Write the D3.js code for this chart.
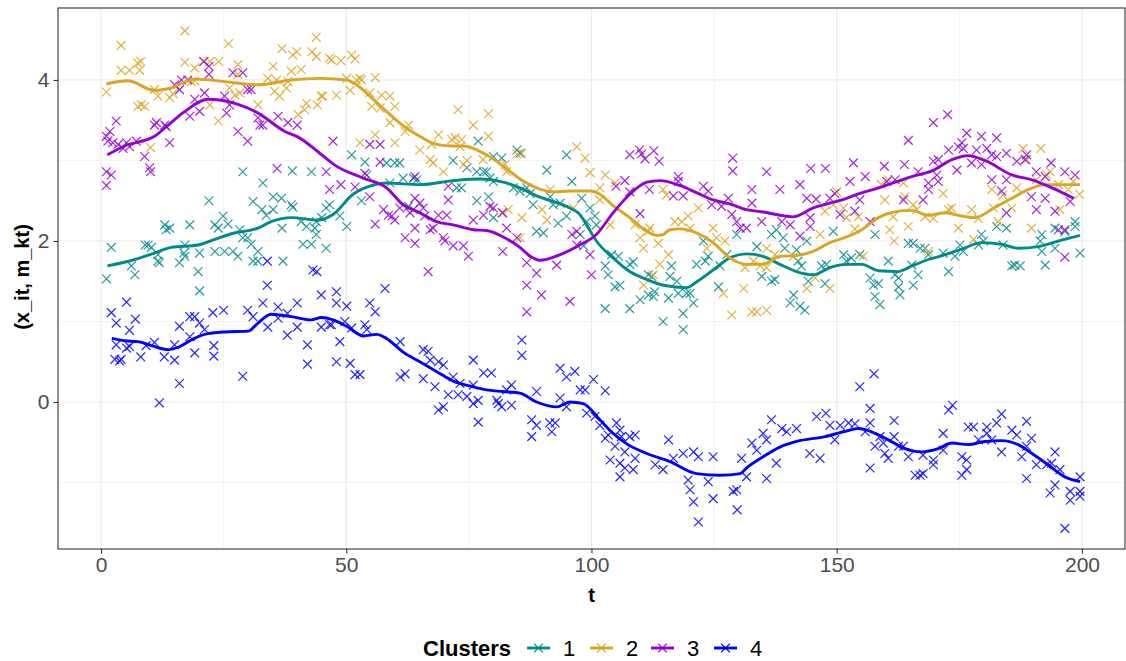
<!DOCTYPE html>
<html><head><meta charset="utf-8">
<script src="https://cdn.jsdelivr.net/npm/d3@7"></script>
<style>
html,body{margin:0;padding:0;background:#fff;}
svg{display:block;font-family:"Liberation Sans",Arial,Helvetica,sans-serif;}
</style></head>
<body><svg id="chart" width="1126" height="661"></svg>
<script>
// ---------- DATA ----------
const clusters = ["1","2","3","4"];
const colors = ["#008B8B","#DAA520","#9400D3","#0000FF"];
const xTicks = [0,50,100,150,200];
const yTicks = [0,2,4];
const xMinor = [25,75,125,175];
const yMinor = [-1,1,3];

// mean trajectories m_kt  [t, value]
const line1 = [[1.3,1.69],[6.9,1.77],[10.9,1.85],[14.3,1.92],[19.8,1.95],[23.2,2.02],[26.6,2.09],[32,2.16],[34.7,2.24],[38.8,2.29],[44.2,2.26],[47.3,2.33],[51.4,2.58],[54.8,2.68],[58.2,2.72],[65,2.70],[71.8,2.75],[77.3,2.77],[82,2.73],[85.4,2.66],[88.8,2.56],[92.2,2.49],[95.6,2.41],[97.6,2.33],[99,2.20],[101,2.0],[104.4,1.79],[107.8,1.62],[111.3,1.52],[114.7,1.45],[119.4,1.42],[121.4,1.49],[124.8,1.64],[128.2,1.79],[131.6,1.84],[135,1.81],[138.4,1.71],[141.8,1.62],[145.2,1.58],[148.6,1.67],[152,1.71],[155.1,1.71],[158.5,1.63],[162.5,1.62],[165.3,1.69],[168.7,1.77],[172.1,1.83],[175.5,1.90],[179.6,1.98],[183.6,1.96],[187,1.91],[191.1,1.93],[195.2,2.00],[199.6,2.07]];
const line2 = [[1.1,3.95],[5.5,3.99],[10.9,3.87],[14.3,3.90],[19.1,4.01],[25.2,3.98],[32,3.94],[38.8,4.0],[44.6,4.02],[50.1,4.0],[52.1,3.94],[54.8,3.80],[58.2,3.61],[62.3,3.40],[65,3.30],[68.4,3.20],[71.8,3.18],[73.9,3.18],[78.6,3.07],[82,2.93],[85.4,2.77],[88.8,2.66],[92.2,2.61],[95.6,2.62],[99.7,2.62],[101.7,2.58],[104.4,2.44],[107.8,2.29],[111.3,2.12],[113.3,2.07],[114.6,2.08],[116,2.14],[118,2.15],[121.4,2.10],[124.8,1.98],[128.2,1.79],[131.6,1.71],[135,1.71],[138.4,1.81],[141.8,1.82],[145.2,1.87],[148.6,1.98],[152,2.05],[155.1,2.14],[158.5,2.29],[160.9,2.35],[165.3,2.38],[168.7,2.32],[172.1,2.35],[175.5,2.31],[178.2,2.29],[182.3,2.42],[185.7,2.53],[189.1,2.64],[192.5,2.70],[195.9,2.70],[199.6,2.70]];
const line3 = [[1.3,3.07],[4.8,3.18],[10.9,3.30],[13.7,3.44],[17.1,3.61],[21.8,3.76],[27.3,3.71],[32,3.59],[37.5,3.36],[40.2,3.29],[44.6,3.09],[48,2.93],[53.5,2.78],[58.2,2.66],[61.6,2.45],[65,2.35],[68.4,2.24],[71.8,2.20],[75.9,2.14],[78.6,2.13],[82,2.05],[85.4,1.92],[87.5,1.81],[89.5,1.76],[93.6,1.83],[97.6,1.95],[101,2.08],[104.4,2.35],[107.8,2.58],[111.3,2.73],[114,2.75],[118,2.69],[121.4,2.60],[124.8,2.51],[128.2,2.46],[131.6,2.39],[135,2.36],[138.4,2.32],[141.1,2.30],[145.2,2.41],[148.6,2.47],[152,2.53],[153.7,2.57],[158.5,2.66],[165.3,2.80],[169.4,2.87],[173.5,3.01],[176.8,3.06],[180.2,3.00],[185.7,2.82],[189.8,2.76],[193.9,2.66],[198.3,2.53]];
const line4 = [[2.2,0.79],[4.8,0.76],[7.5,0.75],[10.3,0.70],[13.7,0.65],[15.7,0.68],[18.4,0.77],[21.1,0.84],[25.2,0.87],[30,0.88],[32,0.98],[34.7,1.09],[38.8,1.06],[42.9,1.02],[44.9,1.05],[47.3,1.02],[50.1,0.94],[53.5,0.82],[56.2,0.84],[58.2,0.79],[61.6,0.62],[65,0.50],[68.4,0.38],[71.8,0.26],[75.2,0.20],[78.6,0.15],[82,0.13],[85.4,0.11],[88.8,0.00],[92.9,-0.06],[95.6,0.0],[98.3,-0.02],[101.7,-0.22],[104.4,-0.39],[107.2,-0.52],[111.3,-0.64],[116,-0.74],[121.4,-0.89],[126.2,-0.91],[130.3,-0.89],[131.6,-0.82],[135,-0.68],[138.4,-0.56],[141.8,-0.49],[147.6,-0.43],[152,-0.36],[154.4,-0.33],[157.1,-0.37],[160.5,-0.47],[163.9,-0.58],[167.3,-0.62],[170.7,-0.58],[173.5,-0.51],[176.8,-0.53],[180.2,-0.49],[183.6,-0.48],[187,-0.53],[189.8,-0.64],[193.1,-0.78],[196.5,-0.93],[199.6,-0.99]];

// observations x_it  [t, value]
const c1Points = [[1.1,1.53],[2.1,1.92],[6.2,1.69],[6.9,1.58],[9,1.95],[9.6,1.95],[10.3,1.92],[11.6,1.83],[11.6,1.75],[11.9,1.73],[13,2.20],[13.3,2.14],[14,2.16],[17.1,1.95],[16.9,1.85],[17.1,1.81],[16,1.73],[18.1,2.20],[19.8,1.62],[20.1,1.85],[22,2.50],[23.2,2.20],[23.9,2.16],[24.9,2.31],[25.9,2.21],[23.2,1.87],[25.2,1.87],[26.9,1.87],[27.9,1.81],[28.3,2.14],[28.9,2.86],[28.9,2.04],[29.9,2.04],[31,2.49],[30.6,1.96],[32,1.87],[32,1.75],[31,1.75],[32.8,2.39],[33,2.72],[33.7,2.32],[35.1,2.55],[35.1,2.39],[36.8,2.53],[36.9,2.16],[37.1,1.75],[38.8,2.45],[39.1,2.42],[39,2.87],[40.8,2.24],[41.2,1.96],[41.9,2.18],[42.9,2.86],[42.9,1.96],[43.6,2.16],[43.9,2.08],[43.9,2.24],[45.9,1.91],[45.9,2.41],[46.6,2.45],[20.1,1.38],
[51.1,3.07],[53.8,2.98],[54.2,2.82],[53.1,2.50],[45,2.29],[48.7,2.31],[50.1,2.18],[58.2,2.97],[59.9,2.97],[60.9,2.97],[58.9,2.72],[61.6,2.78],[63.7,2.78],[64.4,2.76],[62.7,2.43],[63.7,2.39],[71.8,3.0],[72.5,2.66],[73.5,2.66],[74.6,2.91],[76.9,3.24],[76.6,2.86],[78,2.86],[78.6,2.86],[80,3.05],[81.7,3.03],[79.3,2.78],[80,2.74],[76.6,2.50],[79,2.55],[80,2.29],[84.1,2.66],[85.4,2.62],[84.8,3.13],[85.4,3.09],[86.8,2.66],[87.5,2.59],[88.1,2.45],[90.9,2.88],[91.6,2.55],[92.2,2.45],[93.6,2.47],[94.9,3.07],[96,2.74],[94.9,2.31],[93.2,2.22],[88.8,2.12],[90.2,2.10],[98,2.53],[99.7,2.41],[99,2.24],[97.7,2.08],[98.4,1.94],[100.7,2.31],[101,2.20],
[104.1,1.83],[105.5,1.81],[102.8,1.69],[103.4,1.58],[107.8,1.71],[108.5,1.74],[111.6,1.58],[116.3,1.69],[116,1.56],[121.4,1.71],[122.8,2.0],[123.2,1.75],[123.8,1.81],[126.2,1.69],[127.6,1.83],[129.6,2.08],[133.7,1.93],[136.7,2.08],[137.7,2.14],[139.1,2.04],[139.4,1.91],[141.8,1.89],[142.1,1.75],[142.8,1.69],[143.9,2.0],[146.9,1.69],[147.9,1.71],[149.3,2.12],[151.4,1.83],[152,1.75],[153,1.79],
[102.8,1.16],[104.8,1.43],[105.8,1.45],[107.8,1.16],[109.9,1.27],[111.6,1.33],[112.6,1.31],[112.9,1.37],[112.3,1.56],[114.6,1.0],[115.7,1.29],[117.4,1.50],[117.7,1.35],[118.7,1.10],[118.7,0.90],[119.4,1.35],[120.1,1.35],[120.8,1.23],[125.9,1.43],[134.7,1.56],[136.7,1.50],[137.4,1.52],[140.5,1.23],[141.2,1.33],[142.5,1.19],[143.5,1.14],[144.2,1.50],[147.6,1.47],
[154.7,1.83],[157.8,2.08],[160.5,1.75],[161.9,1.58],[164.6,1.97],[165.6,1.97],[165.3,1.70],[166.6,1.58],[167,1.91],[168,1.91],[168.7,1.83],[171.7,1.85],[172.8,1.62],[174.1,1.81],[175.1,1.95],[175.8,1.87],[178.9,1.95],[179.5,2.08],[179.9,2.0],[182.6,2.18],[183.9,1.95],[184.6,2.16],[185.7,1.69],[186.3,1.70],[187.4,1.69],[191.8,2.08],[191.5,2.0],[191.8,1.87],[192.5,1.70],[194.5,2.16],[194.5,1.91],[196.5,2.12],[198.6,2.24],[198.6,2.18],[199.6,1.85],
[156.8,1.54],[157.5,1.45],[158.5,1.47],[157.8,1.31],[158.8,1.21],[162.6,1.54],[162.6,1.43],[162.9,1.33],[165.6,1.45]];

const c2Points = [[1.1,3.85],[4.1,4.43],[4.1,4.12],[5.8,4.12],[7.5,4.21],[7.9,4.12],[8.1,4.23],[17.1,4.61],[17.1,4.22],[19.1,4.15],[21.1,4.23],[22.2,4.23],[24,4.23],[26,4.45],[27.9,4.19],[27.9,4.07],[34,4.02],[35.1,4.17],[36.9,4.39],[38.8,4.11],[39.1,4.31],[39.9,4.35],[40.8,4.13],[43,4.35],[43.9,4.53],[43.9,4.29],[46.6,4.27],[7.5,3.67],[8.9,3.67],[8.2,3.69],[11.6,3.80],[14,3.78],[14.7,3.83],[10.9,3.88],[18.4,3.98],[19.1,3.99],[22.2,3.69],[23.9,3.49],[26.2,3.90],[27.3,3.81],[28.3,3.84],[32,3.69],[35.4,3.86],[36.4,3.80],[37.8,3.90],[40.2,3.57],[41.5,3.63],[41.9,3.71],[44.1,3.69],[44.9,3.80],[10.1,3.16],[38.1,3.98],[35.8,4.0],
[47,4.25],[48.9,4.24],[51.1,4.31],[51.8,4.26],[45.2,3.80],[48,3.81],[50.1,4.02],[50.8,3.87],[52.1,4.0],[52.8,4.02],[53.1,4.0],[55.9,4.03],[54.8,3.84],[55.2,3.67],[57.2,3.81],[56.9,3.65],[58.9,3.80],[59.9,3.67],[58.9,3.47],[55.9,3.32],[52.8,3.22],[59.9,3.22],[62.7,3.44],[62,3.36],[65,3.13],[68.8,3.32],[67.4,3.20],[67.1,3.01],[67.7,2.97],[69.8,2.86],[71.5,3.26],[72.8,3.63],[72.2,3.28],[73.5,3.26],[73.2,3.17],[75.9,3.44],[79,3.58],[79,3.30],[74.6,3.0],[73.9,2.95],[77.9,3.01],[82.4,2.95],[82.7,2.86],[84.8,3.08],[85.8,3.09],[83,2.39],[81.7,2.35],[85.8,2.29],[89.9,2.39],[90.9,2.26],[91.6,2.64],[97,3.17],[98.7,3.03],[99.7,2.85],[96.3,2.41],[85.4,2.04],
[101.7,2.66],[102.8,2.82],[104.8,2.72],[101.7,2.51],[103.8,2.20],[108.9,2.20],[109.9,2.04],[110.6,1.91],[111.9,2.16],[111.6,2.12],[113.6,1.97],[113.9,1.71],[115.7,1.83],[114.6,2.64],[115.3,2.57],[117,2.24],[118.4,2.24],[119.7,2.31],[121.8,2.41],[120.1,2.16],[123.5,1.91],[124.8,2.16],[125.5,2.04],[127.2,2.0],[131.3,1.67],[133,1.75],[134.4,1.69],[135.7,1.67],[137.4,1.83],[135.7,1.91],[141.2,1.81],[146.6,2.08],[147.6,2.37],[149.3,2.45],[150,2.61],[151.4,2.41],[152,2.29],[153.7,2.15],
[110.6,1.45],[112.6,1.58],[126.9,1.35],[131,1.41],[128.6,1.08],[132.7,1.12],[133.7,1.12],[135.7,1.14],[143.9,1.41],[145.6,1.54],[148.6,1.41],
[154.4,2.30],[155.4,1.81],[159.1,2.70],[159.8,2.51],[160.5,2.76],[161.5,2.30],[160.8,2.14],[161.7,2.0],[163.6,2.72],[163.9,2.55],[164.6,2.18],[165.6,2.45],[166.3,2.39],[168,2.30],[168.7,1.87],[169.7,2.28],[171.7,2.59],[172.8,2.39],[173.4,2.41],[174.8,2.16],[177.5,2.39],[177.9,2.02],[178.9,2.28],[181.6,2.64],[181.9,2.41],[182.9,2.24],[183.9,2.57],[185.7,2.41],[186.7,2.66],[188,3.15],[188.7,3.01],[189.7,2.16],[190.7,2.76],[191.6,3.15],[192.8,2.82],[193.5,2.86],[195.2,2.70],[195.5,2.39],[197.2,2.64],[198.2,2.74],[199.5,2.58]];

const c3Points = [[1.1,3.30],[1.8,3.36],[3.1,3.49],[1.4,3.24],[2.4,3.22],[3.5,3.20],[4.5,3.15],[5.2,3.22],[5.8,3.17],[7.2,3.24],[8.9,3.05],[9.9,2.91],[10.1,2.86],[1.1,2.86],[2.1,2.82],[1.1,2.69],[10.9,3.44],[11.3,3.47],[13,3.44],[13.3,3.42],[14,3.22],[15,3.94],[16.4,4.0],[16,3.88],[17.7,4.0],[18.1,3.55],[19.1,3.76],[20.1,3.61],[21.1,3.84],[20.9,4.23],[22,4.07],[22,4.17],[25.2,3.80],[25.6,3.59],[26.2,3.69],[26.9,4.09],[28.9,4.09],[27.9,3.36],[29.9,3.24],[29.9,3.88],[30.6,3.88],[32,3.53],[32.4,3.44],[33,3.44],[36.1,3.55],[38.1,3.47],[40,3.44],[35.9,2.90],[45.9,2.86],[46.6,2.64],[47.3,3.24],
[48.9,2.70],[51.8,2.67],[53.8,2.84],[54.8,3.20],[56.9,3.20],[56.9,2.98],[54.8,2.55],[55.9,2.21],[57.6,2.39],[58.6,2.32],[59.3,2.31],[59.9,2.26],[60.9,2.41],[62,2.04],[63,2.35],[64,2.53],[64,2.80],[64,2.16],[64,1.97],[65,2.47],[65.7,2.41],[66,2.31],[67.1,2.14],[67.7,2.16],[68.8,2.32],[70.5,2.32],[70.8,2.51],[70.8,2.68],[69.8,2.04],[70.1,2.0],[71.8,1.94],[73.9,1.94],[74.9,1.81],[75.9,2.26],[78,2.32],[79.3,2.43],[80,2.41],[81.9,2.35],[81.9,1.87],[82.7,2.16],[84.8,2.04],[86.8,1.73],[88.8,1.60],[92.9,1.70],[96,2.08],[97,2.12],[97,1.95],[99.7,1.83],[100,1.58],[66.7,1.62],
[86.8,1.45],[86.8,1.12],[89.8,1.33],[95.6,1.25],
[107.8,3.07],[109.8,3.13],[110.2,3.08],[110.9,3.02],[112.7,3.12],[113.8,2.99],[105,2.68],[106.8,2.75],[107.8,2.61],[109.9,2.34],[111.8,2.64],[117.7,2.80],[117.7,2.74],[116.7,2.56],[118.7,2.56],[122.8,2.68],[123.8,2.62],[124.5,2.45],[126.5,2.43],[127.9,2.53],[128.8,3.03],[128.8,2.87],[128.6,2.33],[129.6,2.24],[130.3,2.16],[131.6,2.16],[134.7,2.24],[132.7,2.64],[132.7,2.47],[135.7,2.86],[138.4,2.64],[138.8,2.24],[140.5,2.20],[142.5,2.70],[143.9,2.53],[144.6,2.29],[144.6,2.18],[142.5,2.06],[144.7,2.90],[145.8,2.52],[147.7,2.90],[148.6,2.53],[149.6,2.59],[150.7,2.33],[152.7,2.74],[153.4,2.97],
[155.8,2.80],[154.7,2.51],[153.7,2.37],[156.8,2.24],[159.7,2.93],[160.2,2.74],[161.9,2.76],[163.8,2.95],[163.6,2.51],[164.6,3.25],[166.6,2.86],[167.6,2.51],[168.7,2.72],[168.7,2.64],[169.7,3.47],[169.7,2.99],[170.7,3.01],[170.4,2.82],[170.7,2.74],[172.6,3.57],[172.8,3.13],[174.5,2.88],[174.8,3.17],[175.5,3.22],[175.8,3.15],[176.5,3.34],[177.5,2.97],[178.5,3.13],[179.5,3.30],[179.5,2.95],[180.6,3.15],[181.6,3.07],[182.6,3.28],[181.6,2.76],[182.6,3.05],[183.6,2.62],[184.6,2.76],[184.6,3.09],[184.6,2.35],[186.7,2.99],[188.4,3.01],[188.7,3.07],[189.7,2.55],[190.7,2.39],[190.7,2.86],[192.5,2.53],[192.5,2.80],[193.7,2.97],[194.5,2.37],[195.2,2.14],[196.5,2.86],[196.5,2.14],[196.5,1.80],[198.6,2.82],[197.6,2.49]];

const c4Points = [[2.1,1.11],[3.1,0.98],[5.2,1.24],[7,1.03],[5.8,0.89],[3.1,0.71],[5.2,0.67],[5.8,0.69],[2.8,0.53],[3.8,0.51],[4.1,0.53],[8.1,0.56],[9.2,0.70],[10.9,0.74],[12.9,0.56],[15,0.71],[15,0.52],[16,0.23],[11.9,-0.01],[16,0.94],[18.1,1.06],[19.1,1.06],[20.1,0.98],[18.1,0.81],[19.1,0.61],[21.1,0.90],[22.8,1.11],[23,0.70],[23,0.57],[25,1.14],[28.9,0.32],[29.9,1.14],[31,1.06],[33,1.23],[33.9,1.45],[34,0.93],[36.1,1.18],[36.1,1.04],[38,1.10],[38,0.83],[40,1.23],[40,0.93],[42.1,0.71],[42.1,0.47],[44.9,1.33],[44.9,0.93],[46.6,0.96],[33.9,1.75],[43.2,1.64],[44,1.62],
[47,0.96],[48,1.37],[48,1.23],[48,0.50],[48.7,0.75],[50.1,1.19],[49.7,1.0],[51.1,0.92],[50.8,0.48],[51.8,0.34],[52.8,0.34],[53.8,0.96],[54.2,0.90],[54.8,1.23],[55.9,1.12],[57.9,1.41],[61,0.75],[61,0.31],[62,0.35],[65.7,0.65],[66.7,0.63],[65.7,0.29],[67.1,0.52],[68.1,0.19],[68.8,0.50],[69.8,0.46],[68.8,-0.10],[69.8,-0.06],[70.8,0.09],[71.8,0.31],[72.8,0.09],[73.2,0.23],[74.6,0.07],[75.9,0.52],[75.9,0.21],[75.9,-0.02],[76.9,-0.25],[76.9,0.02],[78,0.36],[79.6,0.36],[80.7,0.02],[81,-0.02],[81.7,-0.06],[82.7,0.15],[83.7,0.21],[83.7,-0.04],[85.8,0.77],[85.8,0.58],[87.8,-0.22],[87.8,-0.43],[88.8,0.13],[88.8,-0.29],[91.5,-0.26],[91.9,-0.37],[92.6,-0.26],[93.6,0.42],[94.9,0.31],[93.6,0.05],[94.9,-0.06],[96.6,0.38],[97.7,0.15],[98.7,0.15],[99,-0.14],[100.4,0.28],
[102.8,0.14],[100.7,-0.18],[101.7,-0.29],[102.8,-0.45],[103.4,-0.41],[104.8,-0.55],[105.1,-0.26],[105.8,-0.35],[106.1,-0.43],[103.8,-0.72],[105.8,-0.76],[105.8,-0.93],[106.8,-0.62],[107.8,-0.43],[108.9,-0.41],[108.9,-0.70],[108.5,-0.84],[106.8,-0.82],[113,-0.78],[114.6,-0.84],[115.7,-0.47],[116.7,-0.70],[118.7,-0.64],[120.8,-0.62],[121.8,-0.68],[119.7,-0.97],[120.1,-1.09],[120.8,-1.24],[121.8,-1.49],[123.8,-0.99],[124.8,-0.68],[124.8,-1.20],[128.9,-1.11],[129.6,-1.09],[129.7,-1.34],[130.6,-0.70],[131.6,-0.93],[132.7,-0.51],[133.7,-0.60],[135,-0.39],[135.7,-0.47],[135.7,-0.95],[136.7,-0.22],[137.7,-0.76],[138.8,-0.33],[139.8,-0.37],[141.8,-0.33],[144.5,-0.64],[145.9,-0.18],[146.6,-0.70],[147.8,-0.14],[148.6,-0.29],[149.6,-0.47],[150.7,-0.29],[152.4,-0.26],
[153.7,-0.27],[154.7,0.19],[157.6,0.35],[156.8,-0.08],[156.8,-0.26],[155.8,-0.37],[157.8,-0.55],[156.8,-0.82],[158.8,-0.43],[159.5,-0.51],[159.8,-0.64],[160.5,-0.70],[161.7,-0.23],[161.7,-0.43],[162.6,-0.55],[163.6,-0.55],[164.6,-0.68],[166,-0.91],[167,-0.91],[167.6,-0.89],[167.6,-0.66],[169.7,-0.72],[169.7,-0.78],[171.7,-0.39],[171.7,-0.60],[172.8,-0.10],[173.6,-0.04],[175.5,-0.68],[175.5,-0.91],[176.5,-0.72],[176.5,-0.84],[176.8,-0.31],[177.9,-0.31],[178.9,-0.47],[180.6,-0.31],[180.6,-0.39],[181.6,-0.47],[182.6,-0.26],[183.6,-0.15],[183.6,-0.62],[185.7,-0.35],[186.7,-0.41],[187.7,-0.68],[188.7,-0.55],[188.7,-0.24],[189.7,-0.45],[188.7,-0.95],[190.7,-0.78],[192.8,-0.78],[193.8,-0.76],[194.5,-0.62],[194.5,-1.03],[193.5,-1.13],[195.5,-0.84],[196.5,-1.57],[197.6,-1.11],[197.6,-1.22],[199.6,-0.93],[199.6,-1.11],[199.6,-1.17]];

const lines = [line1, line2, line3, line4];
const pointSets = [c1Points, c2Points, c3Points, c4Points];

// ---------- LAYOUT ----------
const svg = d3.select("#chart");
const P = {left:58, top:8, right:1125, bottom:549};
const x = d3.scaleLinear().domain([-8.767, 208.77]).range([P.left, P.right]);
const y = d3.scaleLinear().domain([-1.826, 4.894]).range([P.bottom, P.top]);

svg.append("rect").attr("width",1126).attr("height",661).attr("fill","#fff");

const grid = svg.append("g");
grid.selectAll(".xmin").data(xMinor).join("line")
  .attr("x1",d=>x(d)).attr("x2",d=>x(d)).attr("y1",P.top).attr("y2",P.bottom)
  .attr("stroke","#EBEBEB").attr("stroke-width",0.6);
grid.selectAll(".ymin").data(yMinor).join("line")
  .attr("y1",d=>y(d)).attr("y2",d=>y(d)).attr("x1",P.left).attr("x2",P.right)
  .attr("stroke","#EBEBEB").attr("stroke-width",0.6);
grid.selectAll(".xmaj").data(xTicks).join("line")
  .attr("x1",d=>x(d)).attr("x2",d=>x(d)).attr("y1",P.top).attr("y2",P.bottom)
  .attr("stroke","#EBEBEB").attr("stroke-width",1.2);
grid.selectAll(".ymaj").data(yTicks).join("line")
  .attr("y1",d=>y(d)).attr("y2",d=>y(d)).attr("x1",P.left).attr("x2",P.right)
  .attr("stroke","#EBEBEB").attr("stroke-width",1.2);

// points
const s = 4.4;
const xPath = `M${-s},${-s}L${s},${s}M${-s},${s}L${s},${-s}`;
pointSets.forEach((pts,i)=>{
  svg.append("g").selectAll("path").data(pts).join("path")
    .attr("d",xPath)
    .attr("transform",d=>`translate(${x(d[0])},${y(d[1])})`)
    .attr("fill","none").attr("stroke",colors[i]).attr("stroke-width",1.2)
    .attr("stroke-opacity",0.85);
});

// lines
const lineGen = d3.line().x(d=>x(d[0])).y(d=>y(d[1])).curve(d3.curveMonotoneX);
lines.forEach((ln,i)=>{
  svg.append("path").datum(ln).attr("d",lineGen)
    .attr("fill","none").attr("stroke",colors[i]).attr("stroke-width",2.9)
    .attr("stroke-linejoin","round").attr("stroke-linecap","butt");
});

// panel border
svg.append("rect").attr("x",P.left).attr("y",P.top)
  .attr("width",P.right-P.left).attr("height",P.bottom-P.top)
  .attr("fill","none").attr("stroke","#333333").attr("stroke-width",1.1);

// axes
const xAxis = svg.append("g").attr("transform",`translate(0,${P.bottom})`)
  .call(d3.axisBottom(x).tickValues(xTicks).tickSize(4.5).tickPadding(4).tickFormat(d3.format("d")));
const yAxis = svg.append("g").attr("transform",`translate(${P.left},0)`)
  .call(d3.axisLeft(y).tickValues(yTicks).tickSize(4.5).tickPadding(4).tickFormat(d3.format("d")));
[xAxis,yAxis].forEach(a=>{
  a.select(".domain").remove();
  a.selectAll(".tick line").attr("stroke","#333333").attr("stroke-width",1.1);
  a.selectAll(".tick text").attr("fill","#4D4D4D").style("font-size","21px")
    .style("font-family","'Liberation Sans',Arial,sans-serif");
});

// titles
svg.append("text").attr("x",x(100)).attr("y",602).attr("text-anchor","middle")
  .style("font-size","20px").style("font-weight","bold").attr("fill","#000").text("t");
svg.append("text").attr("transform","translate(29,277) rotate(-90)").attr("text-anchor","middle")
  .style("font-size","20px").style("font-weight","bold").attr("fill","#000").text("(x_it, m_kt)");

// legend
const lg = svg.append("g");
const ly = 648;
lg.append("text").attr("x",423).attr("y",ly+7.5).style("font-size","22px").style("font-weight","bold")
  .attr("fill","#000").text("Clusters");
const keyX = [527, 590, 651, 714];
clusters.forEach((c,i)=>{
  const g = lg.append("g").attr("transform",`translate(${keyX[i]},${ly})`);
  g.append("line").attr("x1",0).attr("x2",23).attr("y1",0).attr("y2",0)
    .attr("stroke",colors[i]).attr("stroke-width",2.9);
  g.append("path").attr("d",xPath).attr("transform","translate(11.5,0)")
    .attr("fill","none").attr("stroke",colors[i]).attr("stroke-width",1.2);
  g.append("text").attr("x",36).attr("y",7.5).style("font-size","22px").attr("fill","#000").text(c);
});
</script></body></html>
